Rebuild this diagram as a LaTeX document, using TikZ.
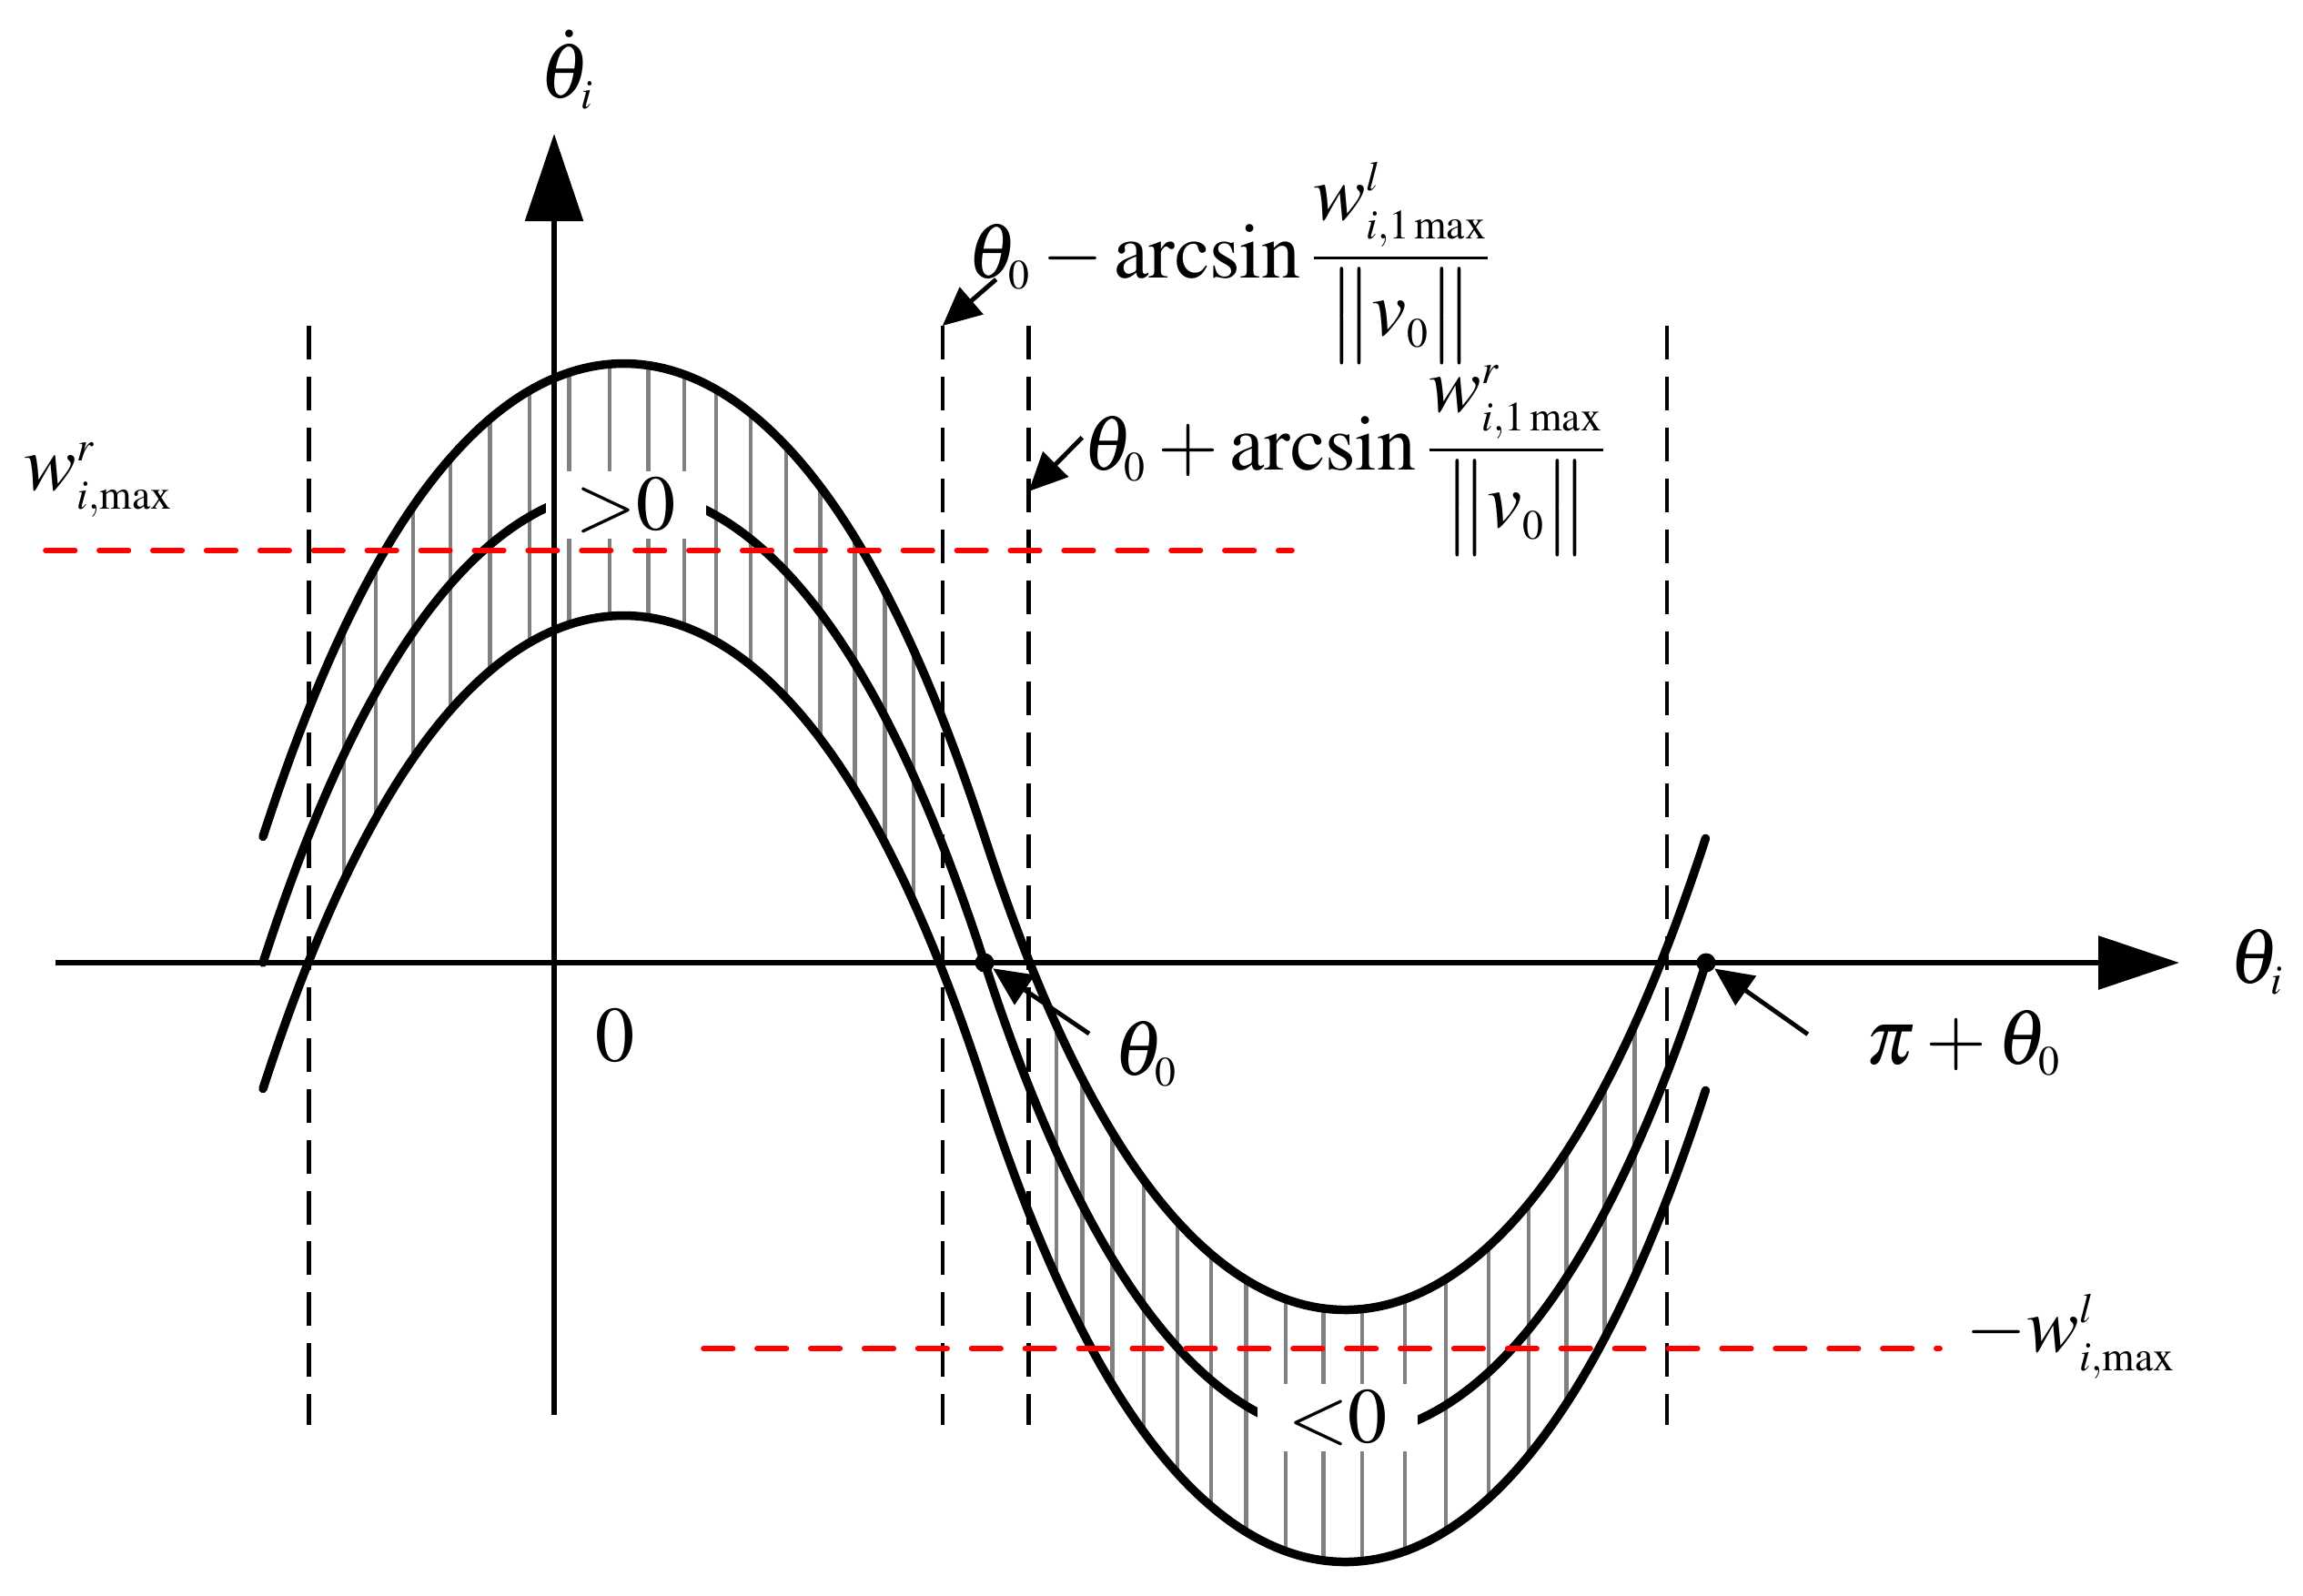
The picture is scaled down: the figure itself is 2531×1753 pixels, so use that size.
\documentclass[tikz,border=0pt]{standalone}
\usepackage{amsmath}
\usepackage{mathptmx}
\usetikzlibrary{arrows.meta}
\DeclareMathSizes{24.5}{24.5}{13}{10}
\definecolor{hatchgray}{RGB}{128,128,128}
\definecolor{redline}{RGB}{255,0,0}
\begin{document}
\begin{tikzpicture}[x=0.01cm, y=-0.01cm,
  font=\fontsize{24.5}{29}\selectfont,
  curve/.style={line width=2.7pt, line cap=round, line join=round},
  hatch/.style={hatchgray, line width=1.25pt},
  vdash/.style={line width=1.3pt, dash pattern=on 10.5pt off 5.4pt},
  rdash/.style={redline, line width=1.6pt, line cap=round, dash pattern=on 9.25pt off 7.5pt},
  axis/.style={line width=1.7pt},
  sarrow/.style={line width=1.4pt, -{Triangle[length=12pt,width=11pt]}},
  dot/.style={circle, fill, inner sep=0pt, minimum size=0.21cm},
  lbl/.style={inner sep=0pt},
  boxlbl/.style={fill=white, inner sep=0pt, minimum width=1.75cm, minimum height=0.74cm}]
\useasboundingbox (0,0) rectangle (2531,1753);

% hatching between upper and lower curves
\begin{scope}
\clip plot[domain=-1:1,samples=100] ({685.5+396.5*\x},{919.5-520*(1-0.825*\x*\x-0.175*\x*\x*\x*\x)})
 -- plot[domain=-1:1,samples=100] ({1478.5+396.5*\x},{919.5+520*(1-0.825*\x*\x-0.175*\x*\x*\x*\x)})
 -- plot[domain=1:-1,samples=100] ({1478.5+396.5*\x},{1196.5+520*(1-0.825*\x*\x-0.175*\x*\x*\x*\x)})
 -- plot[domain=1:-1,samples=100] ({685.5+396.5*\x},{1196.5-520*(1-0.825*\x*\x-0.175*\x*\x*\x*\x)}) -- cycle;
\foreach \h in {377.9,413.2,454,495.2,538.4,582.2,625.4,670.1,712.4,752.2,787,825.2,864,901.3,939.5,972.3,1004,
  1161.2,1189.3,1222.4,1257.1,1293.9,1331.1,1369.4,1412.8,1454.6,1496.9,1543.9,1588.8,1635.7,1680.1,1721.4,1763.3,1796.4}
  \draw[hatch] (\h,300) -- (\h,1800);
\end{scope}

% three curves
\foreach \c in {919.5,1058,1196.5}{
\draw[curve] plot[domain=-1:1,samples=100] ({685.5+396.5*\x},{\c-520*(1-0.825*\x*\x-0.175*\x*\x*\x*\x)})
 -- plot[domain=-1:1,samples=100] ({1478.5+396.5*\x},{\c+520*(1-0.825*\x*\x-0.175*\x*\x*\x*\x)});
}

% sign labels (white boxes break the middle curve)
\node[boxlbl] (gt) at (688,555) {${>}0$};
\node[boxlbl] (lt) at (1470,1558) {${<}0$};

% vertical dashed lines
\coordinate (d1top) at (339.7,358);
\coordinate (d2top) at (1035.8,358);
\coordinate (d3top) at (1130.5,358);
\coordinate (d4top) at (1832,358);
\coordinate (d3mid) at (1130.5,540);
\draw[vdash] (d1top) -- (339.7,1566);
\draw[vdash] (d2top) -- (1035.8,1566);
\draw[vdash] (d3top) -- (1130.5,1566);
\draw[vdash] (d4top) -- (1832,1566);

% axes
\coordinate (xstart) at (61,1058);
\coordinate (xend) at (2395,1058);
\coordinate (ystart) at (609,1555);
\coordinate (yend) at (609,147);
\draw[axis, -{Triangle[length=25.3pt,width=16.5pt]}] (xstart) -- (xend);
\draw[axis, -{Triangle[length=27.3pt,width=17.9pt]}] (ystart) -- (yend);

% red limit lines
\draw[rdash] (50,605) -- (1420,605);
\draw[rdash] (773,1482) -- (2132,1482);

% dots
\node[dot] (dot1) at (1082,1058) {};
\node[dot] (dot2) at (1875,1058) {};

% labels
\node[lbl, anchor=base west] (ydot) at (593,107) {$\dot{\theta}_i$};
\node[lbl, anchor=base west] (xlab) at (2450,1080) {$\theta_i$};
\node[lbl, anchor=base] (zero) at (676,1166) {$0$};
\node[lbl, anchor=base west] (th0) at (1224,1181) {$\theta_0$};
\node[lbl, anchor=base west] (pith0) at (2050,1169) {$\pi+\theta_0$};
\node[lbl, anchor=base west] (wr) at (26,538) {$w^{r}_{i,\max}$};
\node[lbl, anchor=base west] (wl) at (2160,1485) {$-w^{l}_{i,\max}$};
\node[lbl, anchor=base west] (l1) at (1063,305) {$\theta_0-\arcsin\dfrac{w^{l}_{i,1\max}}{\bigl\|v_0\bigr\|}$};
\node[lbl, anchor=base west] (l2) at (1190,516) {$\theta_0+\arcsin\dfrac{w^{r}_{i,1\max}}{\bigl\|v_0\bigr\|}$};

% pointer arrows
\coordinate (a1s) at (1094.7,307);
\coordinate (a2s) at (1189.4,480.7);
\coordinate (a3s) at (1197,1136);
\coordinate (a4s) at (1986.7,1136.6);
\draw[sarrow] (a1s) -- (d2top);
\draw[sarrow] (a2s) -- (d3mid);
\draw[sarrow] (a3s) -- (dot1);
\draw[sarrow] (a4s) -- (dot2);
\end{tikzpicture}
\end{document}
